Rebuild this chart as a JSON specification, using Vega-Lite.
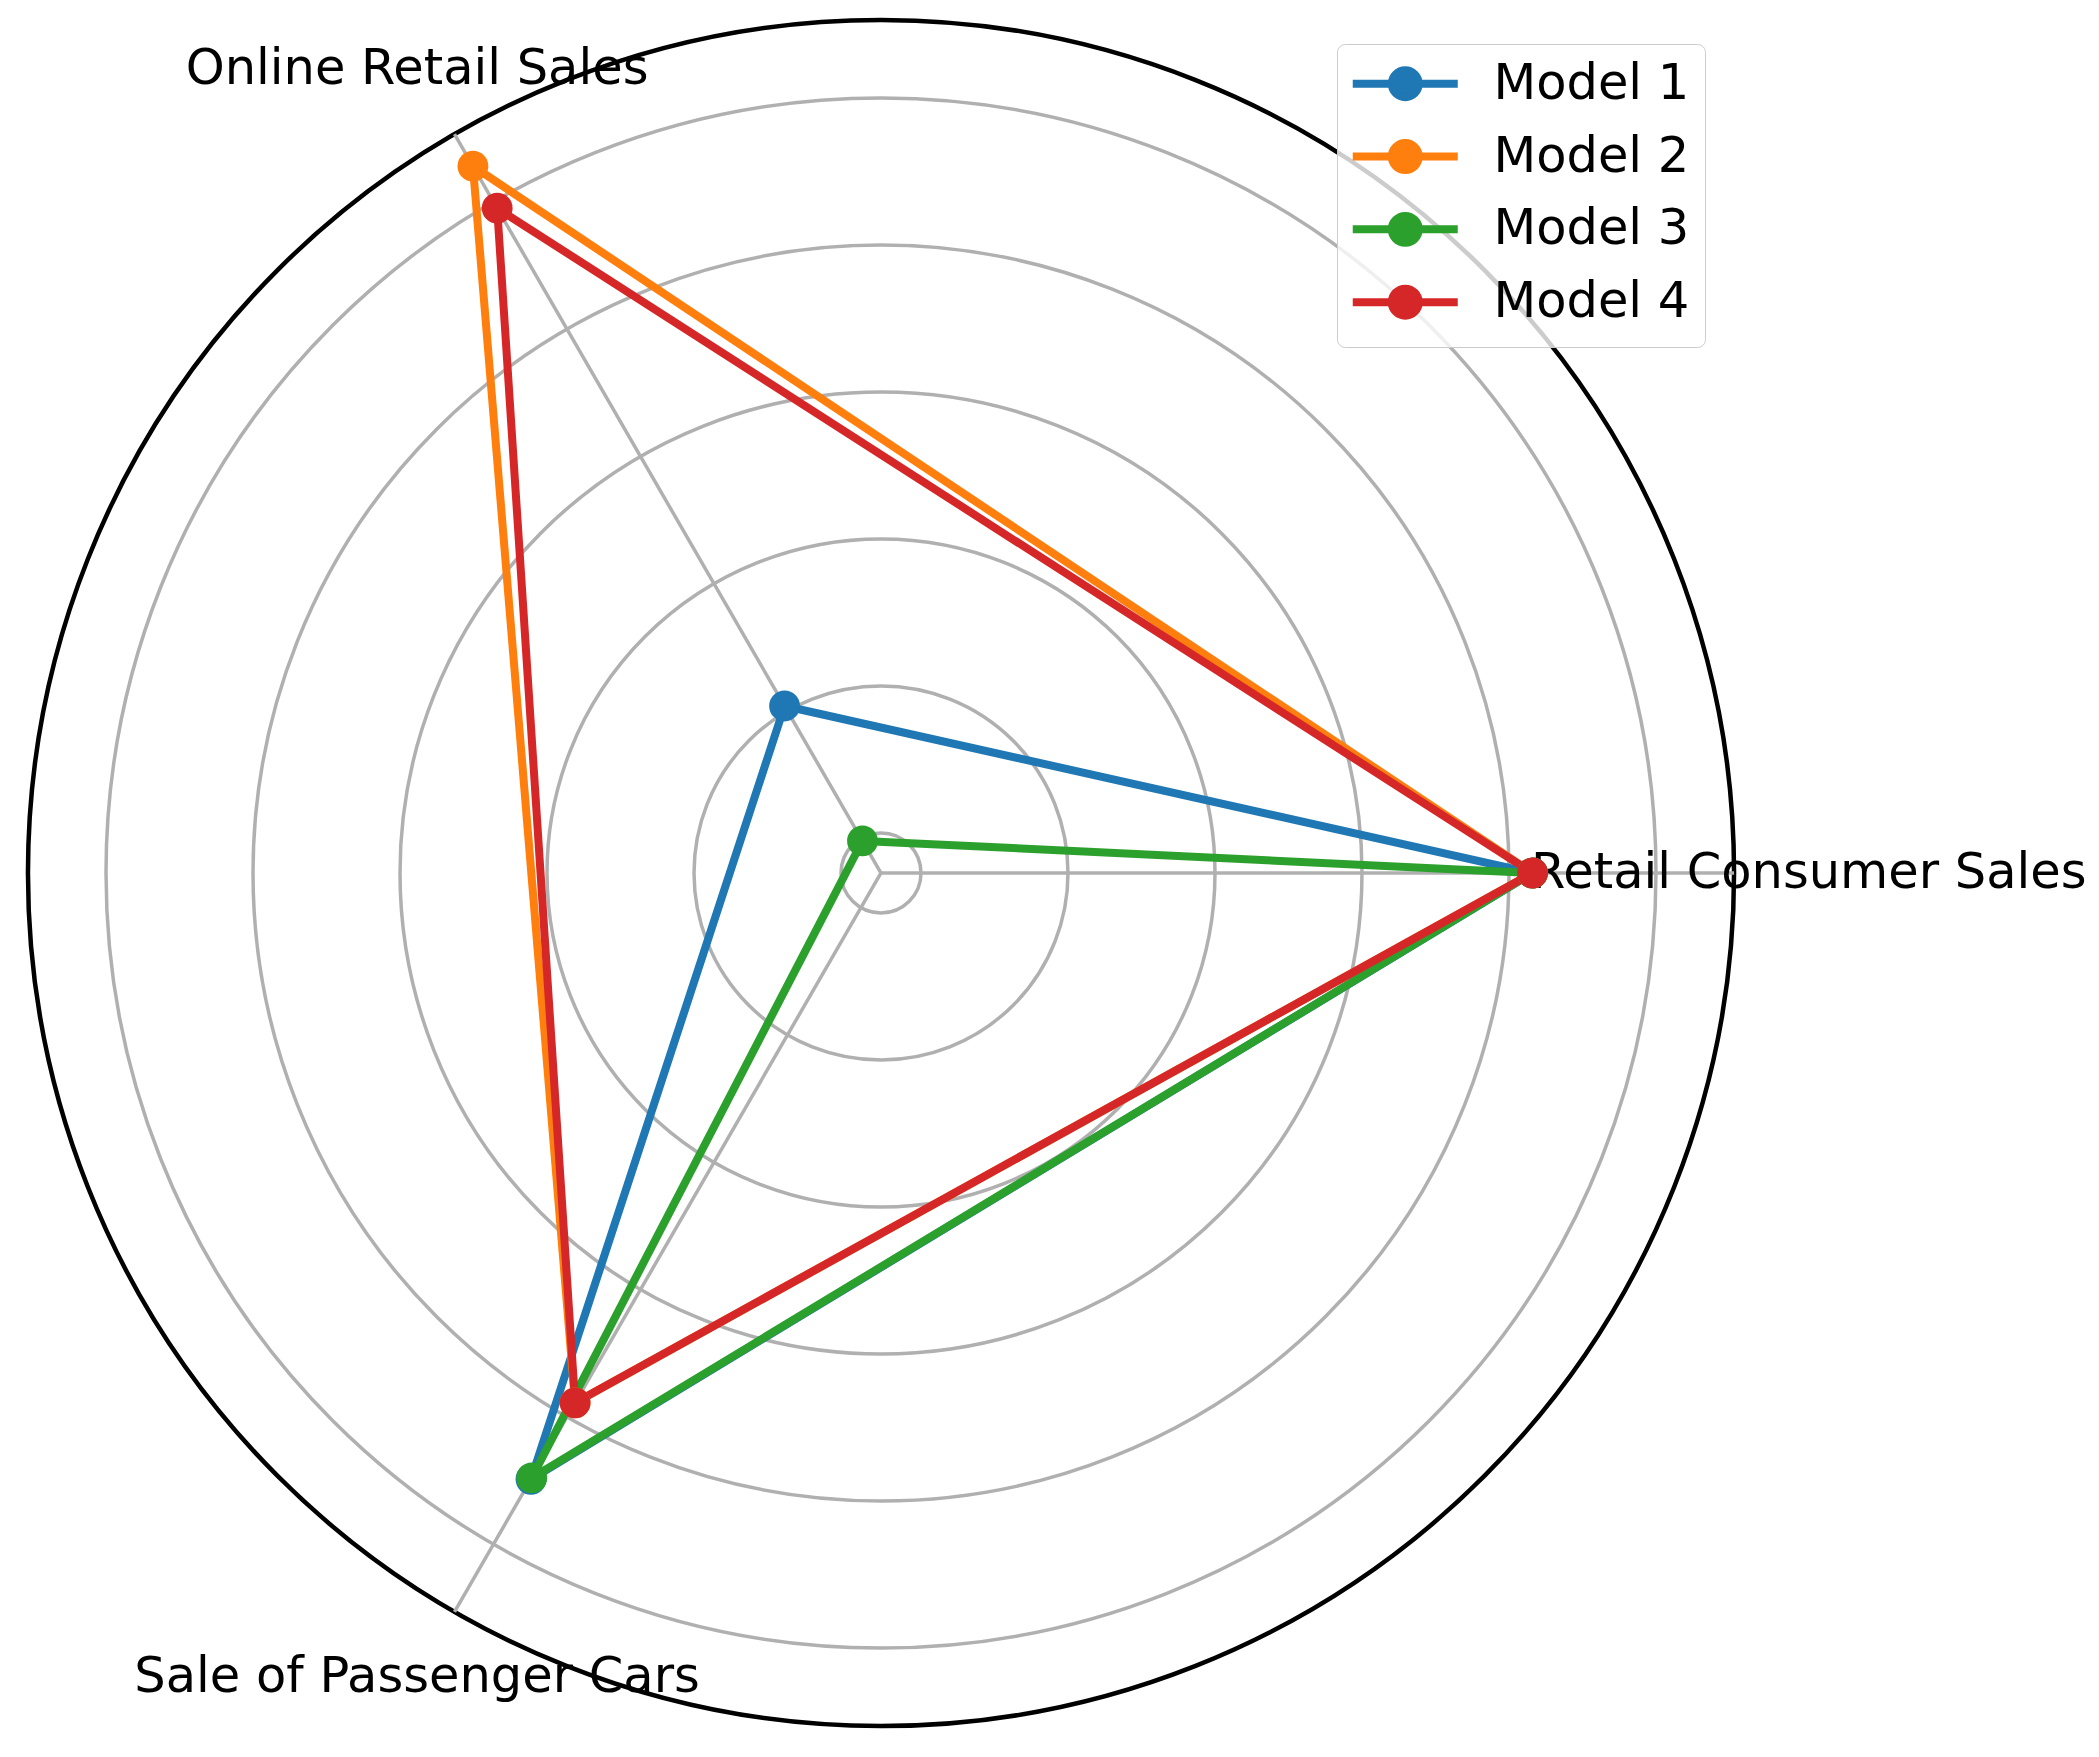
{
  "$schema": "https://vega.github.io/schema/vega-lite/v6.json",
  "width": 1706,
  "height": 1706,
  "autosize": {"type": "none"},
  "padding": {"left": 28, "top": 20, "right": 365, "bottom": 31},
  "background": "white",
  "config": {"view": {"stroke": null}, "font": "DejaVu Sans"},
  "datasets": {
    "scores": [
      {"model": "Model 1", "axis": "Retail Consumer Sales", "angle": 0, "k": 0, "v": 5.16},
      {"model": "Model 1", "axis": "Online Retail Sales", "angle": 120, "k": 1, "v": 2.04},
      {"model": "Model 1", "axis": "Sale of Passenger Cars", "angle": 240, "k": 2, "v": 5.49},
      {"model": "Model 1", "axis": "Retail Consumer Sales", "angle": 0, "k": 3, "v": 5.16},
      {"model": "Model 2", "axis": "Retail Consumer Sales", "angle": 0, "k": 0, "v": 5.16},
      {"model": "Model 2", "axis": "Online Retail Sales", "angle": 120, "k": 1, "v": 6.28},
      {"model": "Model 2", "axis": "Sale of Passenger Cars", "angle": 240, "k": 2, "v": 4.89},
      {"model": "Model 2", "axis": "Retail Consumer Sales", "angle": 0, "k": 3, "v": 5.16},
      {"model": "Model 3", "axis": "Retail Consumer Sales", "angle": 0, "k": 0, "v": 5.16},
      {"model": "Model 3", "axis": "Online Retail Sales", "angle": 120, "k": 1, "v": 0.98},
      {"model": "Model 3", "axis": "Sale of Passenger Cars", "angle": 240, "k": 2, "v": 5.48},
      {"model": "Model 3", "axis": "Retail Consumer Sales", "angle": 0, "k": 3, "v": 5.16},
      {"model": "Model 4", "axis": "Retail Consumer Sales", "angle": 0, "k": 0, "v": 5.16},
      {"model": "Model 4", "axis": "Online Retail Sales", "angle": 120, "k": 1, "v": 5.95},
      {"model": "Model 4", "axis": "Sale of Passenger Cars", "angle": 240, "k": 2, "v": 4.89},
      {"model": "Model 4", "axis": "Retail Consumer Sales", "angle": 0, "k": 3, "v": 5.16}
    ],
    "rings": [
      {"v": 1, "kind": "grid"}, {"v": 2, "kind": "grid"}, {"v": 3, "kind": "grid"},
      {"v": 4, "kind": "grid"}, {"v": 5, "kind": "grid"}, {"v": 6, "kind": "grid"},
      {"v": 6.531, "kind": "spine"}
    ],
    "axes": [
      {"axis": "Retail Consumer Sales", "angle": 0, "v": 6.531, "lv": 7.04},
      {"axis": "Online Retail Sales", "angle": 120, "v": 6.531, "lv": 7.04},
      {"axis": "Sale of Passenger Cars", "angle": 240, "v": 6.531, "lv": 7.04}
    ]
  },
  "layer": [
    {
      "data": {"name": "rings"},
      "transform": [{"calculate": "datum.v - 0.728", "as": "rr"}],
      "mark": {"type": "point", "shape": "circle", "filled": false, "opacity": 1},
      "encoding": {
        "x": {"datum": 0, "type": "quantitative", "scale": {"domain": [-5.8027, 5.8027]}, "axis": null},
        "y": {"datum": 0, "type": "quantitative", "scale": {"domain": [-5.8027, 5.8027]}, "axis": null},
        "size": {"field": "rr", "type": "quantitative", "scale": {"type": "pow", "exponent": 2, "domain": [0, 5.8027], "range": [0, 2910436]}, "legend": null},
        "stroke": {"field": "kind", "type": "nominal", "scale": {"domain": ["grid", "spine"], "range": ["#b0b0b0", "#000000"]}, "legend": null},
        "strokeWidth": {"field": "kind", "type": "nominal", "scale": {"domain": ["grid", "spine"], "range": [3.5, 4.5]}, "legend": null}
      }
    },
    {
      "data": {"name": "axes"},
      "transform": [
        {"calculate": "(datum.v - 0.728) * cos(datum.angle * PI / 180)", "as": "ex"},
        {"calculate": "(datum.v - 0.728) * sin(datum.angle * PI / 180)", "as": "ey"}
      ],
      "mark": {"type": "rule", "stroke": "#b0b0b0", "strokeWidth": 3.5},
      "encoding": {
        "x": {"field": "ex", "type": "quantitative", "scale": {"domain": [-5.8027, 5.8027]}, "axis": null},
        "y": {"field": "ey", "type": "quantitative", "scale": {"domain": [-5.8027, 5.8027]}, "axis": null},
        "x2": {"datum": 0},
        "y2": {"datum": 0}
      }
    },
    {
      "data": {"name": "axes"},
      "transform": [
        {"calculate": "(datum.lv - 0.728) * cos(datum.angle * PI / 180)", "as": "tx"},
        {"calculate": "(datum.lv - 0.728) * sin(datum.angle * PI / 180)", "as": "ty"}
      ],
      "mark": {"type": "text", "fontSize": 49.5, "font": "DejaVu Sans", "color": "black", "align": "center", "baseline": "middle"},
      "encoding": {
        "x": {"field": "tx", "type": "quantitative", "scale": {"domain": [-5.8027, 5.8027]}, "axis": null},
        "y": {"field": "ty", "type": "quantitative", "scale": {"domain": [-5.8027, 5.8027]}, "axis": null},
        "text": {"field": "axis", "type": "nominal"}
      }
    },
    {
      "data": {"name": "scores"},
      "transform": [
        {"calculate": "(datum.v - 0.728) * cos(datum.angle * PI / 180)", "as": "px"},
        {"calculate": "(datum.v - 0.728) * sin(datum.angle * PI / 180)", "as": "py"}
      ],
      "mark": {"type": "line", "strokeWidth": 8, "strokeJoin": "round"},
      "encoding": {
        "x": {"field": "px", "type": "quantitative", "scale": {"domain": [-5.8027, 5.8027]}, "axis": null},
        "y": {"field": "py", "type": "quantitative", "scale": {"domain": [-5.8027, 5.8027]}, "axis": null},
        "order": {"field": "k", "type": "quantitative"},
        "color": {
          "field": "model", "type": "nominal",
          "scale": {"domain": ["Model 1", "Model 2", "Model 3", "Model 4"], "range": ["#1f77b4", "#ff7f0e", "#2ca02c", "#d62728"]},
          "legend": {
            "title": null, "orient": "none", "legendX": 1309, "legendY": 24,
            "labelFontSize": 49.5, "labelFont": "DejaVu Sans", "labelColor": "black",
            "padding": 15, "fillColor": "rgba(255,255,255,0.8)", "strokeColor": "#cccccc", "cornerRadius": 8,
            "rowPadding": 12.8, "labelOffset": 63.5, "labelLimit": 0, "symbolOffset": 28.5,
            "symbolType": "M-3,0L3,0M-0.77,0A0.77,0.77,0,1,1,0.77,0A0.77,0.77,0,1,1,-0.77,0Z",
            "symbolSize": 1225, "symbolStrokeWidth": 8, "symbolOpacity": 1
          }
        }
      }
    },
    {
      "data": {"name": "scores"},
      "transform": [
        {"filter": "datum.k < 3"},
        {"calculate": "(datum.v - 0.728) * cos(datum.angle * PI / 180)", "as": "px"},
        {"calculate": "(datum.v - 0.728) * sin(datum.angle * PI / 180)", "as": "py"}
      ],
      "mark": {"type": "point", "shape": "circle", "filled": true, "opacity": 1, "size": 950},
      "encoding": {
        "x": {"field": "px", "type": "quantitative", "scale": {"domain": [-5.8027, 5.8027]}, "axis": null},
        "y": {"field": "py", "type": "quantitative", "scale": {"domain": [-5.8027, 5.8027]}, "axis": null},
        "color": {"field": "model", "type": "nominal"}
      }
    }
  ]
}
